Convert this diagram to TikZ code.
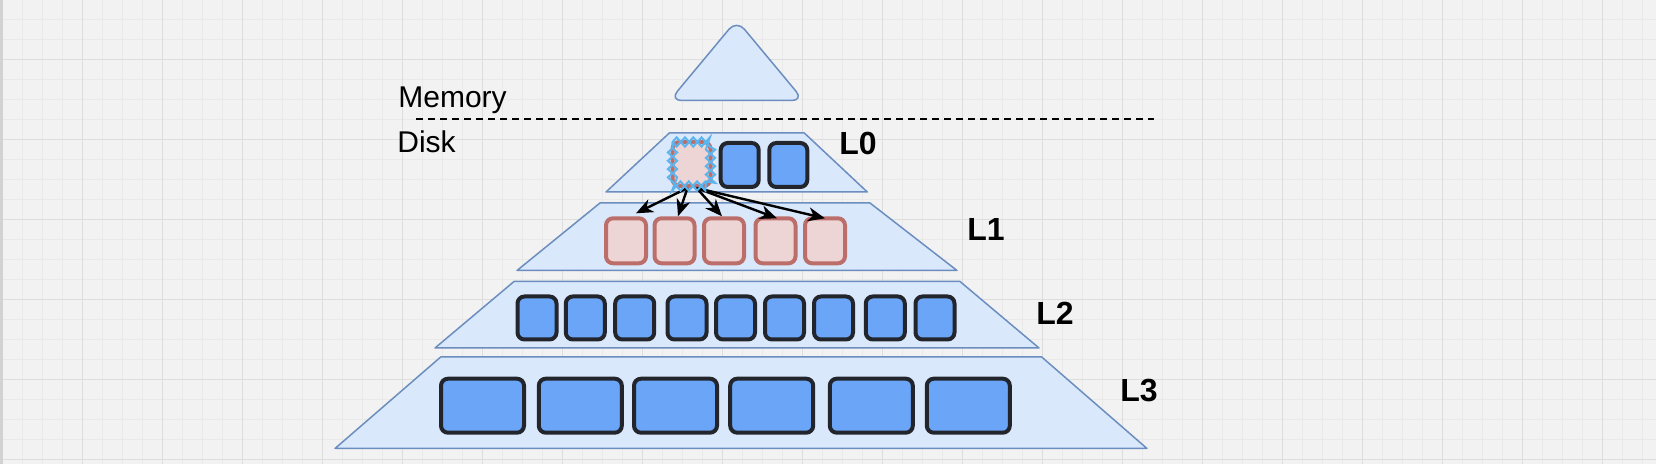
\documentclass[tikz,border=0pt]{standalone}
\usepackage{fontspec}
\setmainfont{Liberation Sans}
\usetikzlibrary{arrows.meta,calc,decorations.pathmorphing}
\definecolor{bgc}{HTML}{F2F2F2}
\definecolor{minorc}{HTML}{E9E9E9}
\definecolor{majorc}{HTML}{DDDDDD}
\definecolor{edgec}{HTML}{D2D2D2}
\definecolor{tierfill}{HTML}{DAE8FC}
\definecolor{tierline}{HTML}{6C8EBF}
\definecolor{boxfill}{HTML}{6AA5F7}
\definecolor{boxline}{HTML}{22262C}
\definecolor{pinkfill}{HTML}{EDD5D5}
\definecolor{pinkline}{HTML}{BC6F6A}
\definecolor{crossc}{HTML}{5AB4EE}
\begin{document}
\begin{tikzpicture}[x=0.5pt,y=-0.5pt,
  minorgrid/.style={draw=minorc, line width=0.5pt},
  majorgrid/.style={draw=majorc, line width=0.5pt},
  tier/.style={draw=tierline, fill=tierfill, line width=0.75pt, line join=round},
  boxbase/.style={line width=2pt, rounded corners=3.5pt, inner sep=0pt, outer sep=0pt},
  bbox/.style={boxbase, draw=boxline, fill=boxfill},
  pbox/.style={boxbase, draw=pinkline, fill=pinkfill},
  szzero/.style={minimum width=19pt, minimum height=22pt},
  szone/.style={minimum width=20pt, minimum height=22.5pt},
  sztwo/.style={minimum width=19.5pt, minimum height=21.5pt},
  szthree/.style={minimum width=41.5pt, minimum height=27pt},
  conn/.style={line width=1.2pt, -{Stealth[length=8.5pt, width=7pt, inset=2.6pt]}},
  plain/.style={anchor=base west, inner sep=0pt, font=\fontsize{15pt}{18pt}\selectfont},
  lvl/.style={anchor=base west, inner sep=0pt, font=\fontsize{16pt}{19pt}\selectfont\bfseries},
  crossline/.style={draw=crossc, line width=1pt, decorate,
     decoration={zigzag, amplitude=2.3pt, segment length=8.3pt}}
]
\useasboundingbox (0,0) rectangle (1656,464);
% background and grid
\fill[bgc] (0,0) rectangle (1656,464);
\foreach \x in {22,42,...,1656} \draw[minorgrid] (\x,0) -- (\x,464);
\foreach \y in {20,40,...,464} \draw[minorgrid] (0,\y) -- (1656,\y);
\foreach \x in {82,162,...,1656} \draw[majorgrid] (\x,0) -- (\x,464);
\foreach \y in {60,140,...,464} \draw[majorgrid] (0,\y) -- (1656,\y);
\fill[edgec] (0,0) rectangle (2.5,464);

% memory triangle
\draw[tier, rounded corners=6pt] (736.7,20) -- (803.7,100.5) -- (669.7,100.5) -- cycle;

% memory / disk separator
\coordinate (dl) at (416,119);
\coordinate (dr) at (1154,119);
\draw[line width=1.1pt, dash pattern=on 3.6pt off 2.4pt] (dl) -- (dr);
\node[plain] (mem) at (398,107.3) {Memory};
\node[plain] (disk) at (397,152.7) {Disk};

% level tiers
\draw[tier] (669.3,133) -- (804.3,133) -- (867.3,192) -- (606,192) -- cycle;
\draw[tier] (600,203) -- (870,203) -- (957,270.5) -- (517,270.5) -- cycle;
\draw[tier] (514,281.5) -- (960,281.5) -- (1039,348) -- (435,348) -- cycle;
\draw[tier] (440.7,357) -- (1041.7,357) -- (1147,448.5) -- (335,448.5) -- cycle;

% L0
\node[pbox, szzero] (p0) at (691.5,164) {};
\node[bbox, szzero] (a1) at (739.7,165) {};
\node[bbox, szzero] (a2) at (788.3,165) {};

% L1
\node[pbox, szone] (p1) at (626,240.8) {};
\node[pbox, szone] (p2) at (674.5,240.8) {};
\node[pbox, szone] (p3) at (724,240.8) {};
\node[pbox, szone] (p4) at (775.5,240.8) {};
\node[pbox, szone] (p5) at (825,240.8) {};

% L2
\foreach \i/\x in {1/537,2/585.3,3/634.7,4/687,5/735.5,6/784.5,7/833.5,8/885.3,9/935}
  \node[bbox, sztwo] (b\i) at (\x,318) {};

% L3
\foreach \i/\x in {1/482.5,2/580.3,3/675.5,4/771.7,5/871.3,6/968.3}
  \node[bbox, szthree] (c\i) at (\x,405.7) {};

% compaction arrows
\draw[conn] ($(p0.south)+(-4,2)$) -- ($(p1.north)+(10,-5)$);
\draw[conn] ($(p0.south)+(-4,2)$) -- ($(p2.north)+(3.5,-2)$);
\draw[conn] ($(p0.south)+(5,2)$) -- ($(p3.north)+(-2,-2)$);
\draw[conn] ($(p0.south)+(5,2)$) -- ($(p4.north)+(1.5,0)$);
\draw[conn] ($(p0.south)+(5,2)$) -- ($(p5.north)+(0,0)$);

% selection crosses around the picked L0 file
\draw[crossline] (p0.north west) -- (p0.north east) -- (p0.south east) -- (p0.south west) -- cycle;
\draw[crossline, decoration={mirror}] (p0.north west) -- (p0.north east) -- (p0.south east) -- (p0.south west) -- cycle;

% level labels
\node[lvl] (l0) at (839,154.3) {L0};
\node[lvl] (l1) at (967,241) {L1};
\node[lvl] (l2) at (1036,324.3) {L2};
\node[lvl] (l3) at (1120,401.7) {L3};
\end{tikzpicture}
\end{document}
